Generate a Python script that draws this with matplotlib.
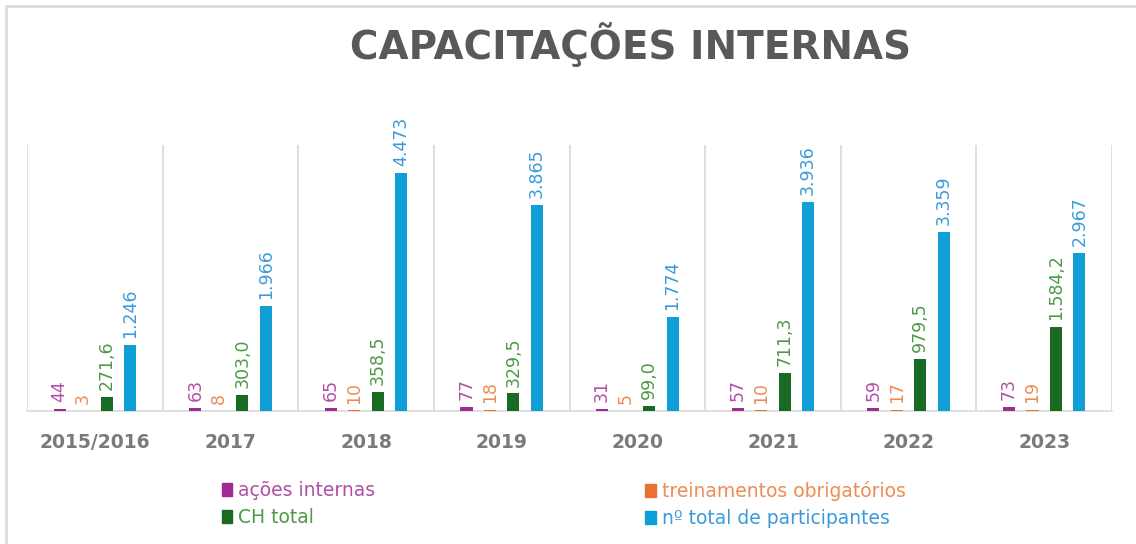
import numpy as np
import matplotlib
matplotlib.use("Agg")
import matplotlib.pyplot as plt
from matplotlib.patches import Patch, Rectangle

plt.rcParams['font.family'] = ['DejaVu Sans']

# data
anos = ['2015/2016', '2017', '2018', '2019', '2020', '2021', '2022', '2023']
acoes_internas = [44, 63, 65, 77, 31, 57, 59, 73]
treinamentos = [3, 8, 10, 18, 5, 10, 17, 19]
ch_total = [271.6, 303.0, 358.5, 329.5, 99.0, 711.3, 979.5, 1584.2]
participantes = [1246, 1966, 4473, 3865, 1774, 3936, 3359, 2967]

series = [
    ('ações internas', acoes_internas, '#A02B93', '#B04FA6', 'int'),
    ('treinamentos obrigatórios', treinamentos, '#E97132', '#EE8C55', 'int'),
    ('CH total', ch_total, '#196B24', '#4C9A45', 'dec'),
    ('nº total de participantes', participantes, '#0F9ED5', '#3A9BDA', 'int'),
]


def fmt_br(v, kind):
    # brazilian style: dot for thousands, comma for decimals
    if kind == 'dec':
        s = f'{v:,.1f}'
    else:
        s = f'{int(v):,d}'
    return s.replace(',', '#').replace('.', ',').replace('#', '.')


fig = plt.figure(figsize=(11.36, 5.44), dpi=100)
ax = fig.add_axes([0.0238, 0.2445, 0.9551, 0.489])

x = np.arange(len(anos))
step = 0.173
width = 0.089
for i, (nome, vals, cor, cor_txt, kind) in enumerate(series):
    pos = x + (i - 1.5) * step
    ax.bar(pos, vals, width=width, color=cor, zorder=3)
    for p, v in zip(pos, vals):
        ax.annotate(fmt_br(v, kind), (p, v), xytext=(0, 5), textcoords='offset points',
                    rotation=90, ha='center', va='bottom', fontsize=12.5,
                    color=cor_txt)

ax.set_xlim(-0.5, len(anos) - 0.5)
ax.set_ylim(0, 5000)
ax.set_yticks([])
ax.set_xticks(x)
ax.set_xticklabels(anos, fontsize=13.5, color='#7a7a7a', fontweight='bold')
ax.tick_params(axis='x', length=0, pad=16)

# category separators
for b in np.arange(-0.5, len(anos), 1):
    ax.axvline(b, color='#d9d9d9', lw=1.2, zorder=1)
for s in ['top', 'left', 'right']:
    ax.spines[s].set_visible(False)
ax.spines['bottom'].set_color('#d9d9d9')
ax.spines['bottom'].set_linewidth(1.2)

fig.text(0.555, 0.918, 'CAPACITAÇÕES INTERNAS', ha='center', va='center',
         fontsize=28, fontweight='bold', color='#595959')

# legend, one column per call
handles = [Patch(color=s[2]) for s in series]
for cols, xa in [((0, 2), 0.195), ((1, 3), 0.568)]:
    leg = fig.legend([handles[k] for k in cols], [series[k][0] for k in cols],
                     loc='upper left', bbox_to_anchor=(xa, 0.116),
                     frameon=False, fontsize=13.5, handlelength=0.55,
                     handleheight=0.7, handletextpad=0.35, labelspacing=0.42,
                     borderpad=0, borderaxespad=0)
    for t, k in zip(leg.get_texts(), cols):
        t.set_color(series[k][3])

# chart border
fig.patches.append(Rectangle((0.0055, -0.1), 1.2, 1.089, transform=fig.transFigure,
                             fill=False, edgecolor='#dcdcdc', lw=2))

fig.savefig('out.png', dpi=100)
